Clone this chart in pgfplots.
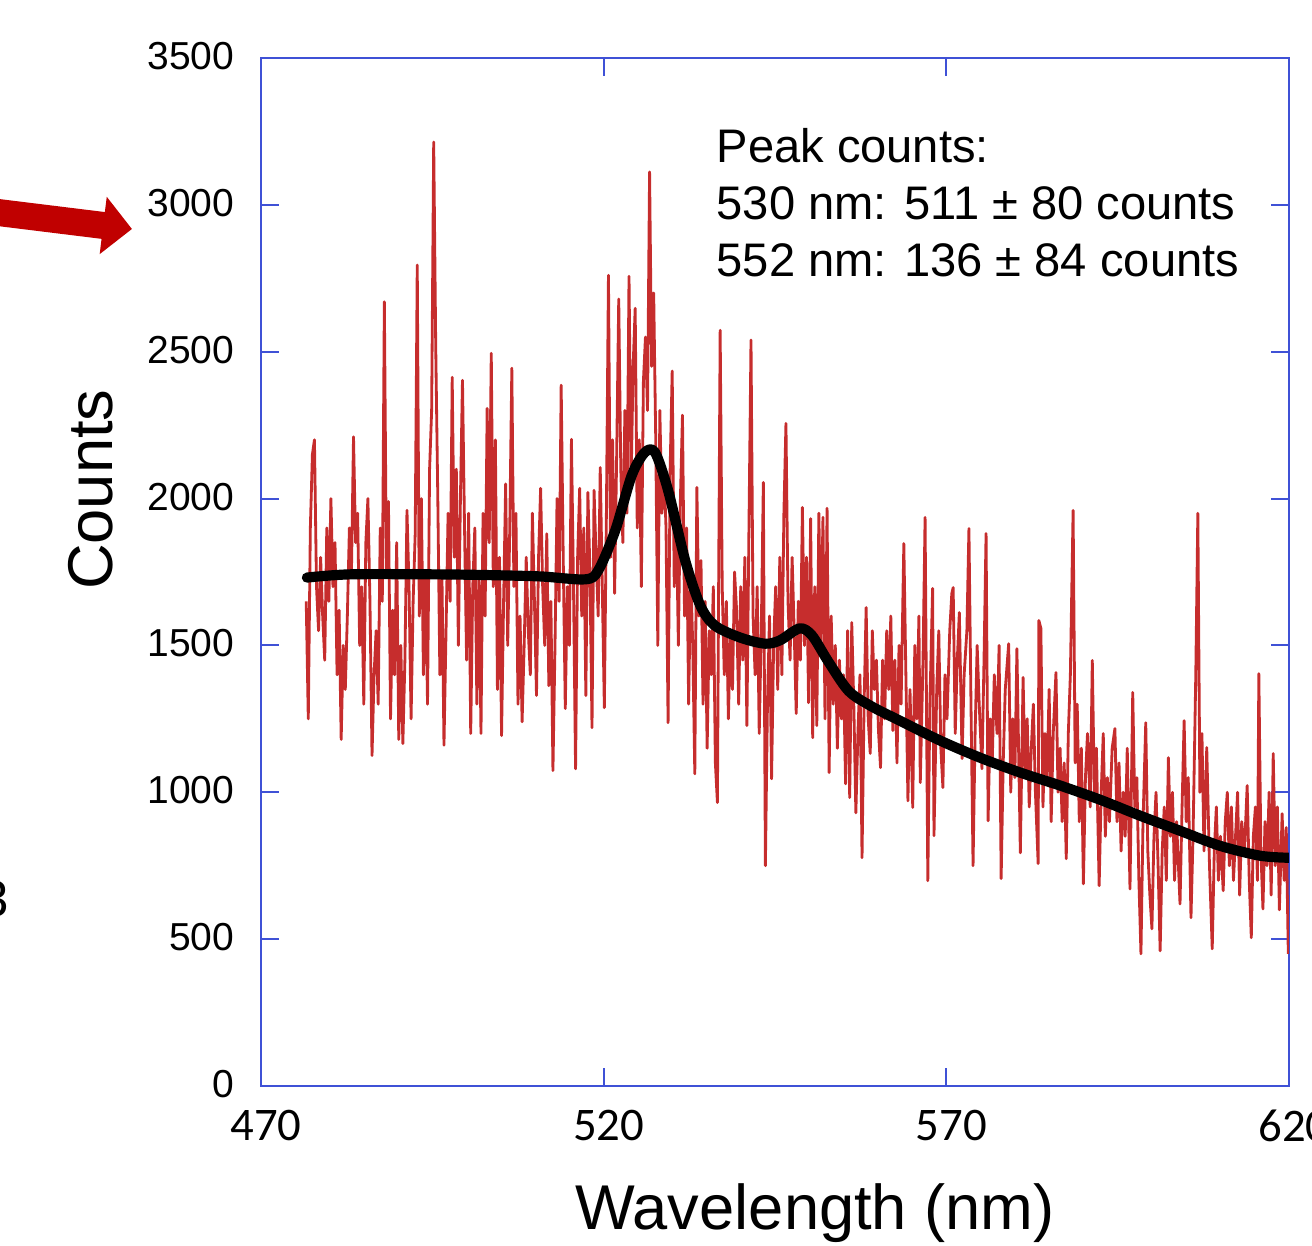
\documentclass[border=0pt]{standalone}
\usepackage{fontspec}
\setmainfont{Liberation Sans}
\newfontfamily\carlito{Carlito}
\usepackage{pgfplots}
\pgfplotsset{compat=1.18}
\usetikzlibrary{arrows.meta,calc}
\definecolor{axisblue}{HTML}{3F51D6}
\definecolor{specred}{HTML}{C62D2D}
\definecolor{arrowred}{HTML}{C00000}

\begin{document}
\begin{tikzpicture}
\begin{axis}[
  name=ax,
  width=10.28cm, height=10.28cm, scale only axis,
  xmin=470, xmax=620, ymin=0, ymax=3500,
  xtick={470,520,570,620},
  ytick={0,500,...,3500},
  tick align=inside, tick pos=both,
  major tick length=1.8mm,
  axis line style={draw=axisblue, line width=0.6pt},
  tick style={draw=axisblue, line width=0.6pt},
  scaled ticks=false,
  /pgf/number format/assume math mode=true,
  /pgf/number format/1000 sep={},
  xticklabel style={font=\carlito\fontsize{13.3}{14}\selectfont, anchor=north, inner sep=0pt, yshift=-2.3mm, xshift=0.5mm},
  yticklabel style={font=\fontsize{11.1}{13}\selectfont, anchor=east, inner sep=0pt, xshift=-2.6mm, yshift=0.2mm},
  xlabel={Wavelength (nm)},
  ylabel={Counts},
  every axis x label/.style={at={(rel axis cs:0.539,-0.1235)}, anchor=center, font=\fontsize{18}{20}\selectfont},
  every axis y label/.style={at={(rel axis cs:-0.166,0.58)}, anchor=center, rotate=90, font=\fontsize{18}{20}\selectfont},
]
% measured spectrum
\addplot[specred, line width=0.8pt, line join=round] coordinates {
(476.6,1650) (476.9,1250) (477.2,1900) (477.5,2150) (477.8,2200) (478.1,1700) (478.4,1550) (478.7,1800)
(479.0,1600) (479.3,1450) (479.6,1900) (479.9,1650) (480.2,2000) (480.5,1700) (480.8,1850) (481.1,1400)
(481.4,1620) (481.7,1180) (482.0,1500) (482.3,1350) (482.6,1600) (482.9,1900) (483.2,1750) (483.5,2210)
(483.8,1850) (484.1,1950) (484.4,1500) (484.7,1700) (485.0,1300) (485.3,1850) (485.6,2000) (485.9,1650)
(486.2,1125) (486.5,1400) (486.8,1550) (487.1,1300) (487.4,1900) (487.7,1650) (488.0,2670) (488.3,1750)
(488.6,1990) (488.9,1250) (489.2,1620) (489.5,1400) (489.8,1850) (490.1,1180) (490.4,1500) (490.7,1166)
(491.0,1450) (491.3,1960) (491.6,1700) (491.9,1250) (492.2,1650) (492.5,1880) (492.8,2795) (493.1,1600)
(493.4,2000) (493.7,1400) (494.0,1750) (494.3,1300) (494.6,2100) (494.9,2300) (495.2,3214) (495.5,2512)
(495.8,2000) (496.1,1400) (496.4,1750) (496.7,1160) (497.0,1550) (497.3,1950) (497.6,1650) (497.9,2413)
(498.2,1800) (498.5,2100) (498.8,1500) (499.1,2000) (499.4,2403) (499.7,1900) (500.0,1450) (500.3,1950)
(500.6,1200) (500.9,1700) (501.2,1900) (501.5,1300) (501.8,1750) (502.1,1200) (502.4,1950) (502.7,1600)
(503.0,2307) (503.3,1850) (503.6,2495) (503.9,1700) (504.2,2200) (504.5,1350) (504.8,1800) (505.1,1193)
(505.4,1650) (505.7,2050) (506.0,1500) (506.3,1900) (506.6,2444) (506.9,1700) (507.2,1950) (507.5,1300)
(507.8,1600) (508.1,1240) (508.4,1500) (508.7,1800) (509.0,1550) (509.3,1400) (509.6,1950) (509.9,1650)
(510.2,1330) (510.5,1800) (510.8,2035) (511.1,1700) (511.4,1500) (511.7,1880) (512.0,1363) (512.3,1650)
(512.6,1074) (512.9,1500) (513.2,2000) (513.5,1650) (513.8,2386) (514.1,1800) (514.4,1285) (514.7,1700)
(515.0,1500) (515.3,2202) (515.6,1700) (515.9,1080) (516.2,1800) (516.5,2035) (516.8,1600) (517.1,1900)
(517.4,1329) (517.7,2021) (518.0,1750) (518.3,1220) (518.6,2028) (518.9,1800) (519.2,1600) (519.5,2106)
(519.8,1700) (520.1,1288) (520.4,1950) (520.7,2760) (521.0,1800) (521.3,2200) (521.6,1677) (521.9,2150)
(522.2,2679) (522.5,2100) (522.8,1850) (523.1,2300) (523.4,1950) (523.7,2757) (524.0,2050) (524.3,2450)
(524.6,2648) (524.9,1900) (525.2,2200) (525.5,1700) (525.8,2400) (526.1,2550) (526.4,2300) (526.7,3112)
(527.0,2450) (527.3,2700) (527.6,2200) (527.9,1500) (528.2,2300) (528.5,1950) (528.8,2100) (529.1,1900)
(529.4,1237) (529.7,2100) (530.0,2434) (530.3,1700) (530.6,1950) (530.9,1500) (531.2,2000) (531.5,2284)
(531.8,1600) (532.1,1900) (532.4,1300) (532.7,1750) (533.0,1500) (533.3,1063) (533.6,2038) (533.9,1600)
(534.2,1789) (534.5,1300) (534.8,1650) (535.1,1150) (535.4,1550) (535.7,1400) (536.0,1700) (536.3,1100)
(536.6,965) (536.8,1800) (537.0,2573) (537.3,1700) (537.6,1400) (537.9,1650) (538.2,1250) (538.5,1550)
(538.8,1350) (539.1,1750) (539.4,1619) (539.7,1300) (540.0,1700) (540.3,1450) (540.6,1800) (540.9,1227)
(541.2,1900) (541.5,2540) (541.8,1600) (542.1,1400) (542.4,1700) (542.7,1200) (543.0,1550) (543.3,2055)
(543.6,750) (543.9,1300) (544.2,1600) (544.5,1046) (544.8,1500) (545.1,1700) (545.4,1350) (545.7,1800)
(546.0,1400) (546.3,1950) (546.6,2256) (546.9,1650) (547.2,1450) (547.5,1800) (547.8,1550) (548.1,1268)
(548.4,1650) (548.7,1450) (549.0,1970) (549.3,1500) (549.6,1800) (549.9,1305) (550.2,1932) (550.5,1186)
(550.8,1700) (551.1,1227) (551.4,1950) (551.7,1500) (552.0,1936) (552.3,1250) (552.6,1967) (552.9,1067)
(553.2,1600) (553.5,1300) (553.8,1500) (554.1,1150) (554.4,1450) (554.7,1250) (555.0,1400) (555.3,1029)
(555.6,1550) (555.9,982) (556.2,1578) (556.5,1300) (556.8,930) (557.1,1200) (557.4,1400) (557.7,777)
(558.0,1300) (558.3,1629) (558.6,1250) (558.9,1132) (559.2,1550) (559.5,1350) (559.8,1450) (560.1,1210)
(560.4,1084) (560.7,1450) (561.0,1250) (561.3,1550) (561.6,1350) (561.9,1600) (562.2,1210) (562.5,1450)
(562.8,1100) (563.1,1500) (563.4,1300) (563.8,1847) (564.1,1400) (564.4,971) (564.7,1350) (565.1,948)
(565.4,1500) (565.7,1250) (566.0,1600) (566.2,1033) (566.6,1450) (566.9,1936) (567.3,699) (567.6,1300)
(568.0,1694) (568.2,852) (568.6,1350) (568.9,1550) (569.2,1150) (569.5,1016) (569.8,1400) (570.1,1250)
(570.5,1550) (570.8,1677) (571.0,1697) (571.3,1200) (571.6,1450) (571.9,1612) (572.3,1115) (572.6,1400)
(573.0,1550) (573.3,1898) (573.6,1300) (573.9,750) (574.2,1200) (574.5,1500) (574.8,1300) (575.2,1080)
(575.5,1450) (575.8,1881) (576.1,903) (576.4,1250) (576.7,1100) (577.0,1400) (577.4,1200) (577.7,1500)
(578.0,706) (578.3,1100) (578.6,1350) (579.1,1506) (579.4,1000) (579.7,1250) (580.0,1050) (580.3,1489)
(580.8,794) (581.2,1391) (581.5,1050) (581.8,1250) (582.1,950) (582.4,1150) (582.7,1300) (583.0,1000)
(583.4,757) (583.5,1585) (583.8,1558) (584.1,950) (584.4,1200) (584.7,1050) (585.0,1350) (585.3,900)
(585.6,1200) (586.0,1408) (586.3,1000) (586.6,1150) (586.9,900) (587.2,1100) (587.5,774) (587.8,1200)
(588.1,1400) (588.5,1960) (588.8,1100) (589.1,1300) (589.4,900) (589.7,1150) (590.0,688) (590.3,1050)
(590.6,1200) (591.0,950) (591.3,1449) (591.6,1000) (591.9,1150) (592.3,682) (592.6,1000) (592.9,1200)
(593.2,850) (593.5,1050) (593.8,900) (594.2,1150) (594.6,1217) (594.9,900) (595.2,1100) (595.5,800)
(595.8,1000) (596.1,850) (596.4,1150) (596.8,671) (597.2,1340) (597.5,950) (597.8,1050) (598.1,700)
(598.4,450) (598.7,900) (599.1,1237) (599.4,800) (599.7,650) (600.0,535) (600.3,850) (600.6,1000)
(600.9,750) (601.2,460) (601.5,800) (601.8,950) (602.1,700) (602.4,1118) (602.7,850) (603.0,1000)
(603.3,700) (603.6,900) (604.1,620) (604.4,950) (604.7,1244) (605.0,900) (605.3,1050) (605.7,573)
(606.0,850) (606.4,1400) (606.7,1950) (607.0,1000) (607.3,1200) (607.6,800) (608.0,1152) (608.4,750)
(608.8,467) (609.1,800) (609.4,950) (609.7,700) (610.0,850) (610.4,665) (610.7,900) (611.0,1000)
(611.3,750) (611.6,950) (611.9,700) (612.2,850) (612.5,1000) (612.8,650) (613.1,900) (613.5,800)
(613.9,1023) (614.2,700) (614.5,505) (614.8,850) (615.1,950) (615.4,700) (615.6,1404) (615.9,800)
(616.2,603) (616.5,900) (616.8,750) (617.1,1000) (617.4,650) (617.7,1132) (618.0,750) (618.3,950)
(618.6,600) (619.0,927) (619.3,700) (619.6,880) (619.9,450)
};
% fitted curve
\addplot[black, line width=2.9pt, line cap=round, line join=round, smooth, tension=0.5] coordinates {
(476.7,1731) (483,1742) (495,1742) (502,1740) (510.7,1735) (517.3,1725) (519.2,1755) (521.7,1892)
(524.1,2079) (526.0,2157) (527.5,2157) (529.4,2028) (531.9,1789) (534.1,1636) (536.2,1568) (539.9,1527)
(543.5,1506) (545.7,1517) (548.6,1558) (550.4,1534) (552.7,1448) (555.7,1346) (558.9,1295) (563.2,1244)
(569.1,1176) (574.9,1118) (580.8,1067) (586.6,1023) (592.4,975) (598.3,920) (604.1,869) (609.9,818)
(615.8,784) (620,777)
};
\node[anchor=north west, inner sep=0pt, align=left, font=\fontsize{13.4}{16.2}\selectfont]
  at (rel axis cs:0.4426,0.932) {Peak counts:\\530 nm: 511 ± 80 counts\\552 nm: 136 ± 84 counts};
\end{axis}
\draw[arrowred, line width=2.7mm, -{Triangle[length=2.9mm,width=5.6mm]}]
  ($(ax.south west)+(-2.75cm,8.75cm)$) -- ($(ax.south west)+(-1.29cm,8.57cm)$);
\node[anchor=east, inner sep=0pt, font=\fontsize{14.5}{16}\selectfont]
  at ($(ax.south west)+(-2.51cm,1.87cm)$) {3};
\pgfresetboundingbox
\path[use as bounding box] ($(ax.south west)+(-2.61cm,-1.60cm)$) rectangle ($(ax.south west)+(10.51cm,10.86cm)$);
\end{tikzpicture}
\end{document}
